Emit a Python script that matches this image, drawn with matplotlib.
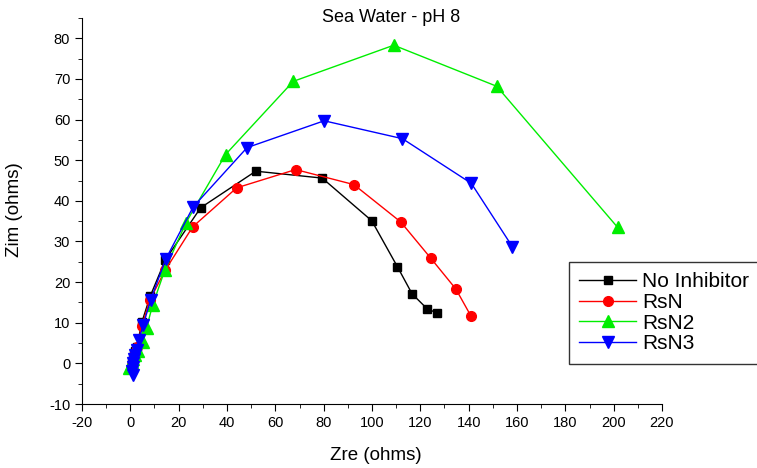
import matplotlib
matplotlib.use('Agg')
import matplotlib.pyplot as plt
from matplotlib.ticker import MultipleLocator

plt.rcParams['font.family'] = ['Liberation Sans', 'DejaVu Sans']
plt.rcParams['axes.unicode_minus'] = False

# данные (Zre, Zim в омах)
noinh_x = [0.5, 0.8, 1.2, 1.6, 2.1, 2.7, 4.8, 8.2, 14.5, 29.1, 51.9, 79.4, 99.9, 110.5, 116.6, 122.7, 126.8]
noinh_y = [-1.0, 0.0, 1.0, 2.0, 3.0, 4.0, 10.2, 16.5, 25.5, 38.3, 47.3, 45.6, 35.1, 23.8, 17.1, 13.5, 12.4]

rsn_x = [0.3, 0.6, 1.0, 1.5, 2.0, 2.8, 4.8, 8.0, 14.4, 25.8, 44.0, 68.4, 92.5, 111.9, 124.3, 134.7, 140.9]
rsn_y = [-1.5, -0.5, 0.5, 1.5, 2.5, 4.0, 9.2, 15.5, 22.9, 33.6, 43.2, 47.7, 44.0, 34.8, 25.9, 18.3, 11.7]

rsn2_x = [-0.5, 0.2, 0.8, 1.3, 2.0, 3.0, 5.3, 6.7, 9.2, 14.3, 23.0, 39.4, 67.4, 109.0, 151.6, 201.6]
rsn2_y = [-1.2, -0.5, 0.3, 1.0, 2.0, 3.0, 5.3, 8.7, 14.3, 23.0, 34.6, 51.4, 69.4, 78.3, 68.2, 33.5]

rsn3_x = [1.0, 0.8, 0.9, 1.2, 1.6, 2.0, 2.8, 3.5, 5.3, 8.4, 14.6, 26.0, 48.3, 80.2, 112.6, 141.1, 158.1]
rsn3_y = [-2.9, -2.0, -1.0, 0.0, 1.0, 2.0, 3.3, 5.7, 9.4, 15.6, 25.6, 38.5, 53.1, 59.7, 55.3, 44.3, 28.7]

fig = plt.figure(figsize=(7.57, 4.68), dpi=100)
ax = fig.add_axes([82/757, 1-404/468, 580/757, 386/468])

ax.plot(noinh_x, noinh_y, color='black', marker='s', markersize=6, lw=1, label='No Inhibitor')
ax.plot(rsn_x, rsn_y, color='red', marker='o', markersize=7, lw=1, label='RsN')
ax.plot(rsn2_x, rsn2_y, color='#00ee00', marker='^', markersize=9, lw=1, label='RsN2')
ax.plot(rsn3_x, rsn3_y, color='blue', marker='v', markersize=9, lw=1, label='RsN3')

ax.set_xlim(-20, 220)
ax.set_ylim(-10, 85)
ax.xaxis.set_major_locator(MultipleLocator(20))
ax.xaxis.set_minor_locator(MultipleLocator(10))
ax.yaxis.set_major_locator(MultipleLocator(10))
ax.yaxis.set_minor_locator(MultipleLocator(5))
ax.spines['top'].set_visible(False)
ax.spines['right'].set_visible(False)
ax.tick_params(which='major', direction='out', length=5, labelsize=10.5)
ax.tick_params(which='minor', direction='out', length=3)

fig.text(322/757, 1-18/468, 'Sea Water - pH 8', ha='left', va='center', fontsize=13)
fig.text(376/757, 1-455/468, 'Zre (ohms)', ha='center', va='center', fontsize=13.5)
fig.text(15/757, 1-210/468, 'Zim (ohms)', ha='center', va='center', rotation=90, fontsize=13.5)

leg = fig.legend(loc='upper left', bbox_to_anchor=(569/757, 1-262/468), fontsize=15,
                 frameon=True, fancybox=False, handlelength=2.7, borderpad=0.5,
                 borderaxespad=0, labelspacing=0.08, handletextpad=0.3)
leg.get_frame().set_edgecolor('black')
leg.get_frame().set_linewidth(1)

fig.savefig('out.png', dpi=100)
